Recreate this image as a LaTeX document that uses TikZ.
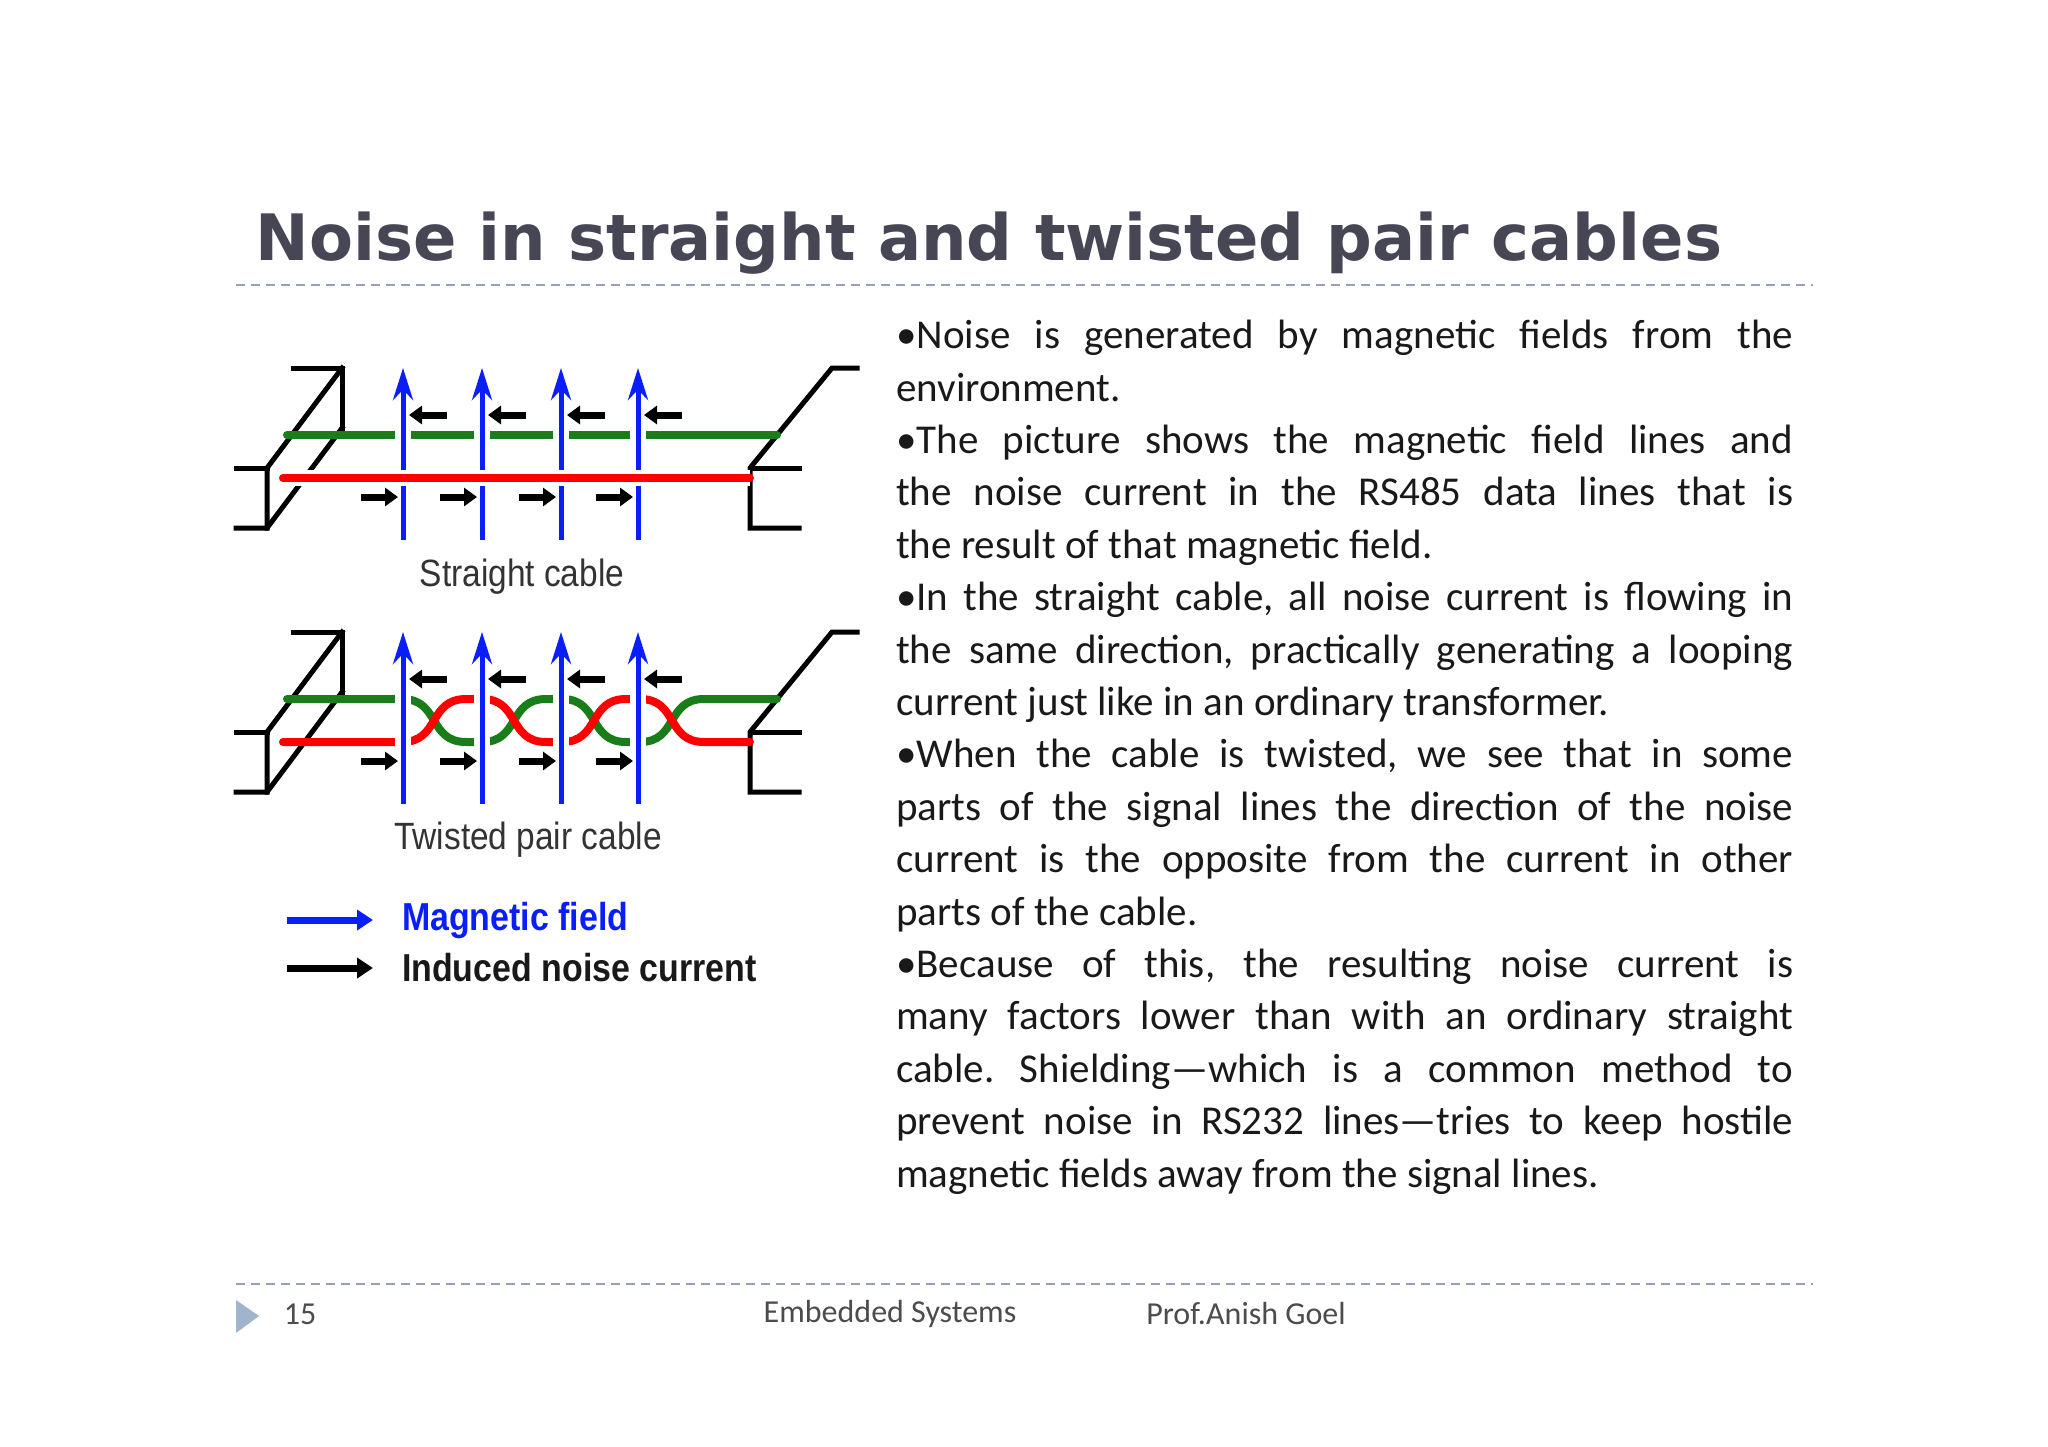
\documentclass[tikz,border=0pt]{standalone}
\usepackage{fontspec}
\setmainfont{Carlito}
\newfontfamily\titlefont{DejaVu Sans}
\newfontfamily\diafont{Liberation Sans}
\usetikzlibrary{arrows.meta}
\definecolor{wgreen}{RGB}{25,125,25}
\definecolor{wblue}{RGB}{10,30,250}
\definecolor{rulec}{RGB}{150,160,185}
\definecolor{titlec}{RGB}{70,70,85}
\definecolor{tric}{RGB}{160,180,205}
\tikzset{
  frame/.style={line width=5pt, line cap=rect, black},
  gwire/.style={line width=8pt, wgreen, line cap=round},
  rwire/.style={line width=8pt, red, line cap=round},
  field/.style={line width=5pt, wblue, -{Stealth[length=32pt,width=20pt]}},
  fieldh/.style={field, preaction={draw=white, line width=16pt, -}},
  cur/.style={line width=7pt, black, -{Triangle[length=13pt,width=18pt]}},
  captext/.style={font=\diafont\fontsize{38}{42}\selectfont, text=black!80, xscale=0.88},
  rulel/.style={rulec, line width=2pt, dash pattern=on 9pt off 6pt}
}
\begin{document}
\begin{tikzpicture}[x=1pt,y=-1pt]
\useasboundingbox (0,0) rectangle (2048,1447);
\fill[white] (0,0) rectangle (2048,1447);
% title
\node[anchor=base west, font=\titlefont\bfseries\fontsize{64}{70}\selectfont, text=titlec] (title) at (252,261) {Noise in straight and twisted pair cables};
\coordinate (r1a) at (236,285); \coordinate (r1b) at (1813,285);
\draw[rulel] (r1a) -- (r1b);
\coordinate (r2a) at (236,1284); \coordinate (r2b) at (1813,1284);
\draw[rulel] (r2a) -- (r2b);
% footer
\fill[tric] (236,1300) -- (259,1316) -- (236,1333) -- cycle;
\node[font=\fontsize{32}{36}\selectfont, text=black!70] (pg) at (300,1314) {15};
\node[font=\fontsize{32}{36}\selectfont, text=black!70] (es) at (890,1314) {Embedded Systems};
\node[font=\fontsize{32}{36}\selectfont, text=black!70] (pa) at (1246,1314) {Prof.Anish Goel};
% body text
\node[anchor=north west, text width=897pt, align=justify, inner sep=0pt,
      font=\fontsize{41}{52.4}\selectfont\frenchspacing, text=black!90] (body) at (896,320) {%
•Noise is generated by magnetic fields from the\linebreak
environment.\par
•The picture shows the magnetic field lines and\linebreak
the noise current in the RS485 data lines that is\linebreak
the result of that magnetic field.\par
•In the straight cable, all noise current is flowing in\linebreak
the same direction, practically generating a looping\linebreak
current just like in an ordinary transformer.\par
•When the cable is twisted, we see that in some\linebreak
parts of the signal lines the direction of the noise\linebreak
current is the opposite from the current in other\linebreak
parts of the cable.\par
•Because of this, the resulting noise current is\linebreak
many factors lower than with an ordinary straight\linebreak
cable. Shielding—which is a common method to\linebreak
prevent noise in RS232 lines—tries to keep hostile\linebreak
magnetic fields away from the signal lines.\par};
% ===== straight cable =====
\draw[frame] (293,368) -- (342,368) -- (342,430);
\draw[frame] (342,368) -- (267,468) -- (267,528);
\draw[frame] (236,468) -- (267,468);
\draw[frame] (236,528) -- (267,528) -- (342,428);
\draw[frame] (857,368) -- (832,368) -- (750,468) -- (750,528) -- (799,528);
\draw[frame] (750,468) -- (799,468);
\coordinate (g1) at (287,435); \coordinate (g2) at (777,435);
\draw[gwire] (g1) -- (g2);
\foreach \x in {403,482,561,638} {
  \draw[fieldh] (\x,540) -- (\x,368);
  \draw[cur] (\x+44,415) -- (\x+6,415);
  \draw[cur] (\x-42,497) -- (\x-5,497);
}
\coordinate (rr1) at (283,478); \coordinate (rr2) at (750,478);
\draw[rwire, preaction={draw=white, line width=16pt}] (rr1) -- (rr2);
\node[captext] (sc) at (522,577) {Straight cable};
% ===== twisted pair =====
\begin{scope}[yshift=-264pt]
\draw[frame] (293,368) -- (342,368) -- (342,430);
\draw[frame] (342,368) -- (267,468) -- (267,528);
\draw[frame] (236,468) -- (267,468);
\draw[frame] (236,528) -- (267,528) -- (342,428);
\draw[frame] (857,368) -- (832,368) -- (750,468) -- (750,528) -- (799,528);
\draw[frame] (750,468) -- (799,468);
\draw[gwire] (287,435) -- (402,435) .. controls (440,435) and (428,478) .. (466,478)
  -- (482,478) .. controls (520,478) and (508,435) .. (546,435)
  -- (562,435) .. controls (600,435) and (588,478) .. (626,478)
  -- (640,478) .. controls (678,478) and (666,435) .. (704,435) -- (777,435);
\draw[rwire] (283,478) -- (402,478) .. controls (440,478) and (428,435) .. (466,435)
  -- (482,435) .. controls (520,435) and (508,478) .. (546,478)
  -- (562,478) .. controls (600,478) and (588,435) .. (626,435)
  -- (640,435) .. controls (678,435) and (666,478) .. (704,478) -- (750,478);
\foreach \x in {403,482,561,638} {
  \draw[fieldh] (\x,540) -- (\x,368);
  \draw[cur] (\x+44,415) -- (\x+6,415);
  \draw[cur] (\x-42,497) -- (\x-5,497);
}
\end{scope}
\node[captext] (tc) at (528,840) {Twisted pair cable};
% legend
\coordinate (lb1) at (287,920); \coordinate (lb2) at (373,920);
\draw[line width=7pt, wblue, -{Triangle[length=16pt,width=20pt]}] (lb1) -- (lb2);
\coordinate (lk1) at (287,968); \coordinate (lk2) at (373,968);
\draw[line width=7pt, black, -{Triangle[length=16pt,width=20pt]}] (lk1) -- (lk2);
\node[anchor=west, font=\diafont\bfseries\fontsize{39}{44}\selectfont, text=wblue, xscale=0.87] (lm) at (399,920) {Magnetic field};
\node[anchor=west, font=\diafont\bfseries\fontsize{39}{44}\selectfont, text=black!90, xscale=0.87] (li) at (399,968) {Induced noise current};
\end{tikzpicture}
\end{document}
